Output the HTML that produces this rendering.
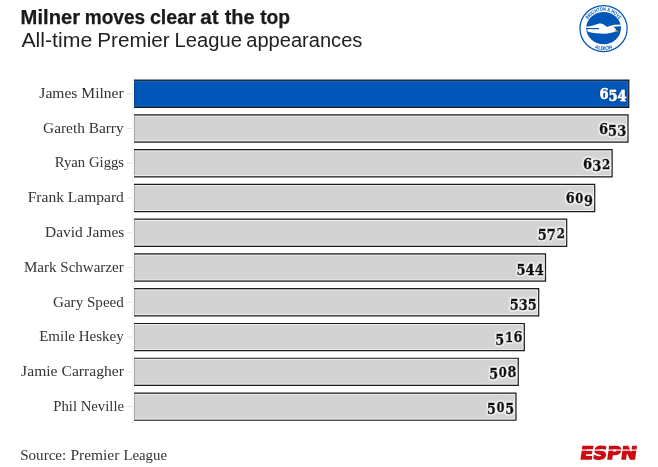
<!DOCTYPE html>
<html><head><meta charset="utf-8"><style>
html,body{margin:0;padding:0;background:#fff;width:658px;height:467px;overflow:hidden}
svg{display:block}
.val{font-family:"DejaVu Serif",Georgia,serif;font-stretch:condensed;font-size:15px;font-weight:bold}
</style></head><body>
<svg width="658" height="467" viewBox="0 0 658 467">
<defs>
<filter id="hw" x="-20%" y="-30%" width="140%" height="160%">
<feGaussianBlur in="SourceAlpha" stdDeviation="0.8" result="b"/>
<feComponentTransfer in="b" result="ha"><feFuncA type="linear" slope="3"/></feComponentTransfer>
<feFlood flood-color="#fff"/><feComposite in2="ha" operator="in" result="h"/>
<feMerge><feMergeNode in="h"/><feMergeNode in="SourceGraphic"/></feMerge>
</filter>
<filter id="hb" x="-20%" y="-30%" width="140%" height="160%">
<feGaussianBlur in="SourceAlpha" stdDeviation="0.8" result="b"/>
<feComponentTransfer in="b" result="ha"><feFuncA type="linear" slope="1.2"/></feComponentTransfer>
<feFlood flood-color="#003a85"/><feComposite in2="ha" operator="in" result="h"/>
<feMerge><feMergeNode in="h"/><feMergeNode in="SourceGraphic"/></feMerge>
</filter>
</defs>
<text y="23.60" style="font-family:'Liberation Sans',Arial,sans-serif;font-size:20px;font-weight:bold;stroke:#1a1a1a;stroke-width:0.25px;fill:#1a1a1a"><tspan x="20.64" textLength="59.42" lengthAdjust="spacingAndGlyphs">Milner</tspan> <tspan x="84.71" textLength="60.49" lengthAdjust="spacingAndGlyphs">moves</tspan> <tspan x="149.91" textLength="46.01" lengthAdjust="spacingAndGlyphs">clear</tspan> <tspan x="200.28" textLength="18.36" lengthAdjust="spacingAndGlyphs">at</tspan> <tspan x="224.70" textLength="29.90" lengthAdjust="spacingAndGlyphs">the</tspan> <tspan x="260.20" textLength="29.87" lengthAdjust="spacingAndGlyphs">top</tspan></text>
<text y="46.50" style="font-family:'Liberation Sans',Arial,sans-serif;font-size:19.5px;fill:#222"><tspan x="21.40" textLength="70.83" lengthAdjust="spacingAndGlyphs">All-time</tspan> <tspan x="97.21" textLength="72.47" lengthAdjust="spacingAndGlyphs">Premier</tspan> <tspan x="174.55" textLength="67.31" lengthAdjust="spacingAndGlyphs">League</tspan> <tspan x="246.23" textLength="116.16" lengthAdjust="spacingAndGlyphs">appearances</tspan></text>
<text y="97.90" style="font-family:'Liberation Serif',Georgia,serif;font-size:15px;fill:#333"><tspan x="39.34" textLength="84.34" lengthAdjust="spacingAndGlyphs">James Milner</tspan></text>
<text y="132.67" style="font-family:'Liberation Serif',Georgia,serif;font-size:15px;fill:#333"><tspan x="43.09" textLength="80.58" lengthAdjust="spacingAndGlyphs">Gareth Barry</tspan></text>
<text y="167.44" style="font-family:'Liberation Serif',Georgia,serif;font-size:15px;fill:#333"><tspan x="54.75" textLength="69.34" lengthAdjust="spacingAndGlyphs">Ryan Giggs</tspan></text>
<text y="202.21" style="font-family:'Liberation Serif',Georgia,serif;font-size:15px;fill:#333"><tspan x="27.74" textLength="96.10" lengthAdjust="spacingAndGlyphs">Frank Lampard</tspan></text>
<text y="236.98" style="font-family:'Liberation Serif',Georgia,serif;font-size:15px;fill:#333"><tspan x="45.14" textLength="79.15" lengthAdjust="spacingAndGlyphs">David James</tspan></text>
<text y="271.75" style="font-family:'Liberation Serif',Georgia,serif;font-size:15px;fill:#333"><tspan x="23.95" textLength="99.80" lengthAdjust="spacingAndGlyphs">Mark Schwarzer</tspan></text>
<text y="306.52" style="font-family:'Liberation Serif',Georgia,serif;font-size:15px;fill:#333"><tspan x="53.00" textLength="70.86" lengthAdjust="spacingAndGlyphs">Gary Speed</tspan></text>
<text y="341.29" style="font-family:'Liberation Serif',Georgia,serif;font-size:15px;fill:#333"><tspan x="39.15" textLength="84.61" lengthAdjust="spacingAndGlyphs">Emile Heskey</tspan></text>
<text y="376.06" style="font-family:'Liberation Serif',Georgia,serif;font-size:15px;fill:#333"><tspan x="21.14" textLength="102.77" lengthAdjust="spacingAndGlyphs">Jamie Carragher</tspan></text>
<text y="410.83" style="font-family:'Liberation Serif',Georgia,serif;font-size:15px;fill:#333"><tspan x="53.25" textLength="70.77" lengthAdjust="spacingAndGlyphs">Phil Neville</tspan></text>
<text y="459.90" style="font-family:'Liberation Serif',Georgia,serif;font-size:15.5px;fill:#333"><tspan x="20.13" textLength="46.16" lengthAdjust="spacingAndGlyphs">Source:</tspan> <tspan x="70.40" textLength="48.98" lengthAdjust="spacingAndGlyphs">Premier</tspan> <tspan x="123.42" textLength="43.62" lengthAdjust="spacingAndGlyphs">League</tspan></text>
<line x1="132.5" x2="132.5" y1="74" y2="425" stroke="#f3f3f3" stroke-width="1"/>
<rect x="134" y="80.10" width="494.78" height="27.20" fill="#0057b8"/>
<path d="M134,81.35H627.53V106.05H134" fill="none" stroke="#1a6acb" stroke-width="0.9"/>
<path d="M134,80.10H628.78V107.30H134" fill="none" stroke="#1c1c1c" stroke-width="1.2"/>
<line x1="134.5" x2="134.5" y1="80.70" y2="106.70" stroke="#000" stroke-opacity="0.22" stroke-width="1"/>
<line x1="126.7" x2="132" y1="93.70" y2="93.70" stroke="#e2e2e2" stroke-width="1"/>
<text x="626.68" y="99.00" text-anchor="end" class="val" fill="#fff" stroke="#fff" stroke-width="0.4" filter="url(#hb)" textLength="27.2" lengthAdjust="spacingAndGlyphs"><tspan>6</tspan><tspan dy="2.20">5</tspan><tspan>4</tspan></text>
<rect x="134" y="114.87" width="494.02" height="27.20" fill="#d3d3d3"/>
<path d="M134,116.12H626.77V140.82H134" fill="none" stroke="#f0f0f0" stroke-width="0.9"/>
<path d="M134,114.87H628.02V142.07H134" fill="none" stroke="#1c1c1c" stroke-width="1.2"/>
<line x1="134.5" x2="134.5" y1="115.47" y2="141.47" stroke="#000" stroke-opacity="0.22" stroke-width="1"/>
<line x1="126.7" x2="132" y1="128.47" y2="128.47" stroke="#e2e2e2" stroke-width="1"/>
<text x="626.22" y="133.77" text-anchor="end" class="val" fill="#111" stroke="#111" stroke-width="0.8" filter="url(#hw)" textLength="27.2" lengthAdjust="spacingAndGlyphs"><tspan>6</tspan><tspan dy="2.20">5</tspan><tspan>3</tspan></text>
<rect x="134" y="149.64" width="478.12" height="27.20" fill="#d3d3d3"/>
<path d="M134,150.89H610.87V175.59H134" fill="none" stroke="#f0f0f0" stroke-width="0.9"/>
<path d="M134,149.64H612.12V176.84H134" fill="none" stroke="#1c1c1c" stroke-width="1.2"/>
<line x1="134.5" x2="134.5" y1="150.24" y2="176.24" stroke="#000" stroke-opacity="0.22" stroke-width="1"/>
<line x1="126.7" x2="132" y1="163.24" y2="163.24" stroke="#e2e2e2" stroke-width="1"/>
<text x="610.32" y="168.54" text-anchor="end" class="val" fill="#111" stroke="#111" stroke-width="0.8" filter="url(#hw)" textLength="27.2" lengthAdjust="spacingAndGlyphs"><tspan>6</tspan><tspan dy="2.20">3</tspan><tspan dy="-2.20" font-size="12.2" font-stretch="normal" dx="0.70">2</tspan></text>
<rect x="134" y="184.41" width="460.71" height="27.20" fill="#d3d3d3"/>
<path d="M134,185.66H593.46V210.36H134" fill="none" stroke="#f0f0f0" stroke-width="0.9"/>
<path d="M134,184.41H594.71V211.61H134" fill="none" stroke="#1c1c1c" stroke-width="1.2"/>
<line x1="134.5" x2="134.5" y1="185.01" y2="211.01" stroke="#000" stroke-opacity="0.22" stroke-width="1"/>
<line x1="126.7" x2="132" y1="198.01" y2="198.01" stroke="#e2e2e2" stroke-width="1"/>
<text x="592.91" y="203.31" text-anchor="end" class="val" fill="#111" stroke="#111" stroke-width="0.8" filter="url(#hw)" textLength="27.2" lengthAdjust="spacingAndGlyphs"><tspan>6</tspan><tspan font-size="12.2" font-stretch="normal" dx="0.70">0</tspan><tspan dy="2.20" dx="0.70">9</tspan></text>
<rect x="134" y="219.18" width="432.70" height="27.20" fill="#d3d3d3"/>
<path d="M134,220.43H565.45V245.13H134" fill="none" stroke="#f0f0f0" stroke-width="0.9"/>
<path d="M134,219.18H566.70V246.38H134" fill="none" stroke="#1c1c1c" stroke-width="1.2"/>
<line x1="134.5" x2="134.5" y1="219.78" y2="245.78" stroke="#000" stroke-opacity="0.22" stroke-width="1"/>
<line x1="126.7" x2="132" y1="232.78" y2="232.78" stroke="#e2e2e2" stroke-width="1"/>
<text x="564.90" y="238.08" text-anchor="end" class="val" fill="#111" stroke="#111" stroke-width="0.8" filter="url(#hw)" textLength="27.2" lengthAdjust="spacingAndGlyphs"><tspan dy="2.20">5</tspan><tspan>7</tspan><tspan dy="-2.20" font-size="12.2" font-stretch="normal" dx="0.70">2</tspan></text>
<rect x="134" y="253.95" width="411.51" height="27.20" fill="#d3d3d3"/>
<path d="M134,255.20H544.26V279.90H134" fill="none" stroke="#f0f0f0" stroke-width="0.9"/>
<path d="M134,253.95H545.51V281.15H134" fill="none" stroke="#1c1c1c" stroke-width="1.2"/>
<line x1="134.5" x2="134.5" y1="254.55" y2="280.55" stroke="#000" stroke-opacity="0.22" stroke-width="1"/>
<line x1="126.7" x2="132" y1="267.55" y2="267.55" stroke="#e2e2e2" stroke-width="1"/>
<text x="543.71" y="272.85" text-anchor="end" class="val" fill="#111" stroke="#111" stroke-width="0.8" filter="url(#hw)" textLength="27.2" lengthAdjust="spacingAndGlyphs"><tspan dy="2.20">5</tspan><tspan>4</tspan><tspan>4</tspan></text>
<rect x="134" y="288.72" width="404.69" height="27.20" fill="#d3d3d3"/>
<path d="M134,289.97H537.44V314.67H134" fill="none" stroke="#f0f0f0" stroke-width="0.9"/>
<path d="M134,288.72H538.69V315.92H134" fill="none" stroke="#1c1c1c" stroke-width="1.2"/>
<line x1="134.5" x2="134.5" y1="289.32" y2="315.32" stroke="#000" stroke-opacity="0.22" stroke-width="1"/>
<line x1="126.7" x2="132" y1="302.32" y2="302.32" stroke="#e2e2e2" stroke-width="1"/>
<text x="536.89" y="307.62" text-anchor="end" class="val" fill="#111" stroke="#111" stroke-width="0.8" filter="url(#hw)" textLength="27.2" lengthAdjust="spacingAndGlyphs"><tspan dy="2.20">5</tspan><tspan>3</tspan><tspan>5</tspan></text>
<rect x="134" y="323.49" width="390.31" height="27.20" fill="#d3d3d3"/>
<path d="M134,324.74H523.06V349.44H134" fill="none" stroke="#f0f0f0" stroke-width="0.9"/>
<path d="M134,323.49H524.31V350.69H134" fill="none" stroke="#1c1c1c" stroke-width="1.2"/>
<line x1="134.5" x2="134.5" y1="324.09" y2="350.09" stroke="#000" stroke-opacity="0.22" stroke-width="1"/>
<line x1="126.7" x2="132" y1="337.09" y2="337.09" stroke="#e2e2e2" stroke-width="1"/>
<text x="522.51" y="342.39" text-anchor="end" class="val" fill="#111" stroke="#111" stroke-width="0.8" filter="url(#hw)" textLength="27.2" lengthAdjust="spacingAndGlyphs"><tspan dy="2.20">5</tspan><tspan dy="-2.20" font-size="12.2" font-stretch="normal" dx="0.70">1</tspan><tspan dx="0.70">6</tspan></text>
<rect x="134" y="358.26" width="384.26" height="27.20" fill="#d3d3d3"/>
<path d="M134,359.51H517.01V384.21H134" fill="none" stroke="#f0f0f0" stroke-width="0.9"/>
<path d="M134,358.26H518.26V385.46H134" fill="none" stroke="#1c1c1c" stroke-width="1.2"/>
<line x1="134.5" x2="134.5" y1="358.86" y2="384.86" stroke="#000" stroke-opacity="0.22" stroke-width="1"/>
<line x1="126.7" x2="132" y1="371.86" y2="371.86" stroke="#e2e2e2" stroke-width="1"/>
<text x="516.46" y="377.16" text-anchor="end" class="val" fill="#111" stroke="#111" stroke-width="0.8" filter="url(#hw)" textLength="27.2" lengthAdjust="spacingAndGlyphs"><tspan dy="2.20">5</tspan><tspan dy="-2.20" font-size="12.2" font-stretch="normal" dx="0.70">0</tspan><tspan dx="0.70">8</tspan></text>
<rect x="134" y="393.03" width="381.99" height="27.20" fill="#d3d3d3"/>
<path d="M134,394.28H514.74V418.98H134" fill="none" stroke="#f0f0f0" stroke-width="0.9"/>
<path d="M134,393.03H515.99V420.23H134" fill="none" stroke="#1c1c1c" stroke-width="1.2"/>
<line x1="134.5" x2="134.5" y1="393.63" y2="419.63" stroke="#000" stroke-opacity="0.22" stroke-width="1"/>
<line x1="126.7" x2="132" y1="406.63" y2="406.63" stroke="#e2e2e2" stroke-width="1"/>
<text x="514.19" y="411.93" text-anchor="end" class="val" fill="#111" stroke="#111" stroke-width="0.8" filter="url(#hw)" textLength="27.2" lengthAdjust="spacingAndGlyphs"><tspan dy="2.20">5</tspan><tspan dy="-2.20" font-size="12.2" font-stretch="normal" dx="0.70">0</tspan><tspan dy="2.20" dx="0.70">5</tspan></text>
<!-- ESPN -->
<g transform="translate(579.5,459.6) skewX(-8)">
<text x="0" y="-0.5" font-family="DejaVu Sans,sans-serif" font-weight="bold" font-size="17.2" fill="#cc0a14" stroke="#cc0a14" stroke-width="1.3" stroke-linejoin="miter" textLength="56.6" lengthAdjust="spacingAndGlyphs">ESPN</text>
</g>
<rect x="579" y="449.5" width="60" height="1.2" fill="#fff"/>

<!-- Brighton logo -->
<g>
<defs>
<path id="arcT" d="M585.75,28.5 A17.8,17.8 0 0 1 621.35,28.5"/>
<path id="arcB" d="M582.15,28.5 A21.4,21.4 0 0 0 624.95,28.5"/>
</defs>
<ellipse cx="603.55" cy="28.5" rx="23.6" ry="23" fill="#fff" stroke="#0057b8" stroke-width="1.25"/>
<ellipse cx="603.6" cy="28.1" rx="17.4" ry="16.1" fill="#0057b8"/>
<text font-family="Liberation Sans,Arial,sans-serif" font-weight="bold" font-size="5" fill="#0057b8"><textPath href="#arcT" startOffset="50%" text-anchor="middle" textLength="37" lengthAdjust="spacingAndGlyphs">BRIGHTON &amp; HOVE</textPath></text>
<text font-family="Liberation Sans,Arial,sans-serif" font-weight="bold" font-size="5" fill="#0057b8"><textPath href="#arcB" startOffset="50%" text-anchor="middle" textLength="18.5" lengthAdjust="spacingAndGlyphs">ALBION</textPath></text>
<path d="M582,27 C586,26.6 590,26.3 594,25.2 C597,24 599,23.5 601,23.6 C603.5,23.8 605.5,26.2 607.3,26.9 C609.5,26.3 612,25.2 614.6,24.8 L626.5,24.4 L626.5,25.2 L620,26.2 L613,26.7 C614.5,27.4 615.5,28.3 615.8,29.3 L615.6,31.6 C613,32.6 610,33.5 606,33.7 C600,33.8 593,33.2 589,32.1 C587.2,31.5 586.8,30.2 587.6,29.2 L588,28.9 L587.6,28.2 C585,27.8 583.5,27.4 582,27.1 Z" fill="#fff"/>
<path d="M586.5,28.5 L598.6,28.6" stroke="#0057b8" stroke-width="1.1" stroke-linecap="round" fill="none"/>
<path d="M614.8,29.7 L619,31.2 L614.8,31.8 Z" fill="#f0b323"/>
</g>

</svg>
</body></html>
